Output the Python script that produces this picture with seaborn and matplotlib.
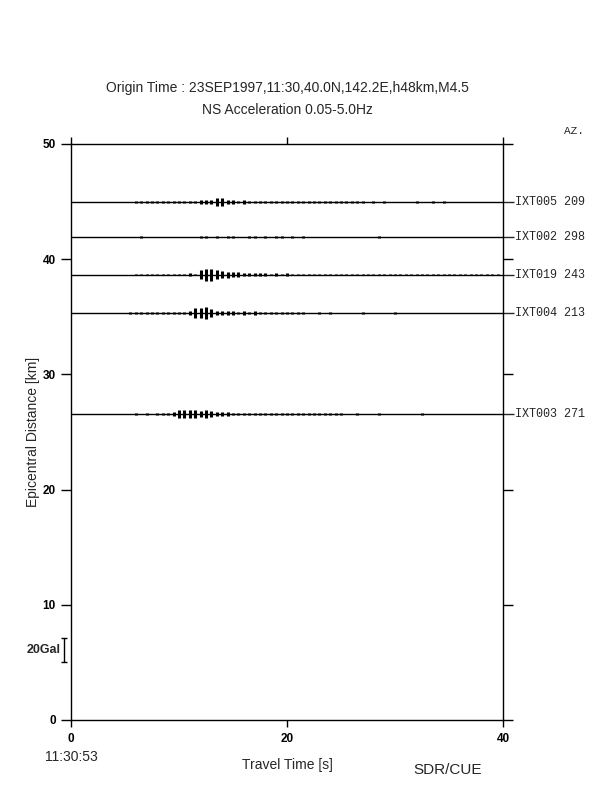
# Record section: NS acceleration traces vs epicentral distance

import numpy as np
import pandas as pd
import seaborn as sns
import matplotlib.pyplot as plt

# station info
stations = ['IXT005', 'IXT002', 'IXT019', 'IXT004', 'IXT003']
azimuths = [209, 298, 243, 213, 271]
distances = [44.97, 41.93, 38.67, 35.33, 26.56]   # km

# trace peak amplitudes [Gal], one value every 0.5 s from 5.0 s to 39.5 s
t_start = 5.0
t_step = 0.5
amp_ixt005 = [0, 0, 0.6, 0.6, 0.8, 0.5, 0.8, 0.5, 0.6, 0.8,
              1, 0.8, 1, 1.2, 1.5, 1.5, 1.5, 3.5, 3, 2,
              1.5, 1.2, 1.5, 1, 1.2, 1, 1, 1, 1, 0.8,
              1, 0.8, 1, 0.8, 1, 0.6, 1, 0.8, 0.6, 0.8,
              0.6, 0.5, 0.8, 0.5, 0.6, 0, 0.5, 0, 0.5, 0,
              0, 0, 0, 0, 0.5, 0, 0, 0.6, 0, 0.5,
              0, 0, 0, 0, 0, 0, 0, 0, 0, 0]
amp_ixt002 = [0, 0, 0, 0.8, 0, 0, 0, 0, 0, 0,
              0, 0, 0, 0, 0.8, 0.8, 0, 0.8, 0, 0.8,
              0.8, 0, 0, 0.8, 0.8, 0, 0.8, 0, 0.8, 0.8,
              0, 0.8, 0, 0.8, 0, 0, 0, 0, 0, 0,
              0, 0, 0, 0, 0, 0, 0, 0.8, 0, 0,
              0, 0, 0, 0, 0, 0, 0, 0, 0, 0,
              0, 0, 0, 0, 0, 0, 0, 0, 0, 0]
amp_ixt019 = [0, 0, 0.8, 0.8, 0.6, 0.6, 0.6, 0.6, 0.6, 0.6,
              0.8, 0.6, 1, 0.8, 4, 5, 5, 4, 3, 2.5,
              2, 2, 1.5, 1.5, 1.2, 1, 1, 0.8, 1, 0.8,
              1, 0.8, 0.8, 0.8, 0.6, 0.8, 0.8, 0.6, 0.8, 0.6,
              0.8, 0.6, 0.6, 0.8, 0.6, 0.6, 0.8, 0.6, 0.6, 0.6,
              0.6, 0.6, 0.6, 0.8, 0.6, 0.6, 0.6, 0.6, 0.6, 0.6,
              0.6, 0.6, 0.8, 0.6, 0.6, 0.6, 0.6, 0.6, 0.6, 0.6]
amp_ixt004 = [0, 0.8, 0.8, 0.6, 0.8, 0.6, 0.8, 0.6, 0.8, 0.8,
              0.8, 1, 1.5, 4, 4, 5, 3, 2, 2, 1.5,
              1.5, 1.2, 1.5, 1, 1.5, 1.2, 1, 0.8, 0.8, 0.6,
              0.8, 0.6, 0.8, 0.6, 0, 0, 0.8, 0, 0.8, 0,
              0, 0, 0, 0, 0.8, 0, 0, 0, 0, 0,
              0.8, 0, 0, 0, 0, 0, 0, 0, 0, 0,
              0, 0, 0, 0, 0, 0, 0, 0, 0, 0]
amp_ixt003 = [0, 0, 0.6, 0, 0.6, 0, 0.6, 0.6, 1, 1.5,
              3, 3.5, 3, 3, 2.5, 3, 2.5, 2, 1.5, 1.5,
              1.2, 1.2, 1, 1.2, 1, 1, 1, 0.8, 1, 0.8,
              0.8, 0.8, 0.6, 0.6, 0.8, 0.6, 0.8, 0.6, 0.8, 0.6,
              0.8, 0, 0, 0.8, 0, 0, 0, 0.8, 0, 0,
              0, 0, 0, 0, 0, 0.8, 0, 0, 0, 0,
              0, 0, 0, 0, 0, 0, 0, 0, 0, 0]
amplitudes = [amp_ixt005, amp_ixt002, amp_ixt019, amp_ixt004, amp_ixt003]

# scale: 20 Gal shown as ~2.08 km on the distance axis
scale_gal = 20
scale_km = 2.08
scale_pos = (-0.65, 6.1)   # travel time [s], distance [km]

sns.set_style("ticks")
plt.rcParams['font.family'] = ['Liberation Sans', 'DejaVu Sans']

fig = plt.figure(figsize=(6.12, 7.92), dpi=100)
ax = fig.add_axes([71 / 612, 72 / 792, 432 / 612, 576 / 792])

km_per_gal = scale_km / scale_gal
for name, az, dist, amp in zip(stations, azimuths, distances, amplitudes):
    amp = np.array(amp) * km_per_gal
    t = t_start + t_step * np.arange(len(amp))
    df = pd.DataFrame({'t': t, 'a': amp})
    df = df[df.a > 0]
    ax.axhline(dist, color='black', lw=1.0)
    # wiggles shown as vertical strokes of the peak amplitude
    ax.vlines(df.t, dist - df.a, dist + df.a, color='black', lw=2.2)
    ax.text(41.1, dist, f"{name} {az}", fontsize=8.5, family='Liberation Mono',
            va='center', ha='left')

ax.set_xlim(0, 40)
ax.set_ylim(0, 50)
ax.set_xticks([0, 20, 40])
ax.set_yticks(range(0, 51, 10))
ax.tick_params(axis='both', direction='out', length=7, width=1, labelsize=8.5,
               pad=4, top=True, right=True, colors='black')
ax.tick_params(axis='x', length=5)
for lab in ax.get_xticklabels() + ax.get_yticklabels():
    lab.set_fontweight('bold')
# small right-side marks where traces cross the spine
ax.yaxis.set_minor_locator(plt.FixedLocator(distances))
ax.tick_params(axis='y', which='minor', left=False, right=True, length=8, width=1)
for sp in ax.spines.values():
    sp.set_linewidth(1.0)
    sp.set_color('black')

ax.set_xlabel("Travel Time [s]", fontsize=10, labelpad=10)
ax.set_ylabel("Epicentral Distance [km]", fontsize=10, labelpad=1.5)

# amplitude scale bar
ax.errorbar(scale_pos[0], scale_pos[1], yerr=scale_km / 2, color='black',
            capsize=2.5, lw=1, clip_on=False)
ax.text(scale_pos[0] - 0.35, scale_pos[1], f"{scale_gal}Gal", fontsize=9,
        fontweight='bold', ha='right', va='center')

fig.text(287 / 612, 1 - 88 / 792,
         "Origin Time : 23SEP1997,11:30,40.0N,142.2E,h48km,M4.5",
         fontsize=10, ha='center', va='center')
fig.text(287 / 612, 1 - 110 / 792, "NS Acceleration 0.05-5.0Hz",
         fontsize=10, ha='center', va='center')
fig.text(574 / 612, 1 - 131 / 792, "AZ.", fontsize=8, family='Liberation Mono',
         ha='center', va='center')
fig.text(71 / 612, 1 - 757 / 792, "11:30:53", fontsize=10, ha='center', va='center')
fig.text(448 / 612, 1 - 770 / 792, "SDR/CUE", fontsize=11, ha='center', va='center')

plt.savefig('out.png', dpi=100)
